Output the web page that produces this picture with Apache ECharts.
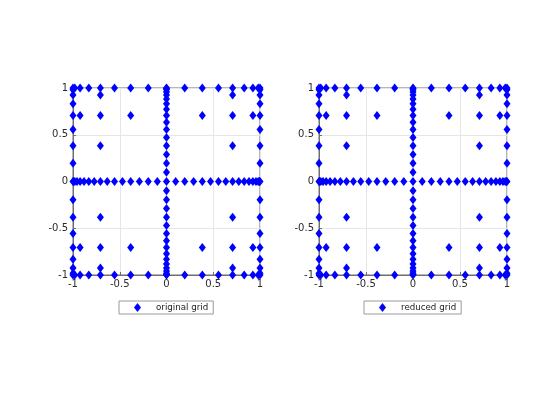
<!DOCTYPE html>
<html>
<head>
<meta charset="utf-8">
<script src="https://cdn.jsdelivr.net/npm/echarts@6/dist/echarts.min.js"></script>
<style>html,body{margin:0;padding:0;background:#fff}#c{width:560px;height:420px}</style>
</head>
<body>
<div id="c"></div>
<script>
// x positions of the points found in each kind of row
const rowX33 = [-1, -0.995, -0.981, -0.957, -0.924, -0.882, -0.831, -0.773, -0.707, -0.634, -0.556, -0.471, -0.383, -0.290, -0.195, -0.098, 0,
                0.098, 0.195, 0.290, 0.383, 0.471, 0.556, 0.634, 0.707, 0.773, 0.831, 0.882, 0.924, 0.957, 0.981, 0.995, 1];
const rowX17 = [-1, -0.981, -0.924, -0.831, -0.707, -0.556, -0.383, -0.195, 0, 0.195, 0.383, 0.556, 0.707, 0.831, 0.924, 0.981, 1];
const rowX9 = [-1, -0.924, -0.707, -0.383, 0, 0.383, 0.707, 0.924, 1];
const rowX5 = [-1, -0.707, 0, 0.707, 1];
const rowX3 = [-1, 0, 1];
const rowX1 = [0];
// y values of the rows that carry each of those x sets
const rowsY33 = [0];
const rowsY17 = [-1, 1];
const rowsY9 = [-0.707, 0.707];
const rowsY5 = [-0.924, -0.383, 0.383, 0.924];
const rowsY3 = [-0.981, -0.831, -0.556, -0.195, 0.195, 0.556, 0.831, 0.981];
const rowsY1 = [-0.995, -0.957, -0.882, -0.773, -0.634, -0.471, -0.290, -0.098, 0.098, 0.290, 0.471, 0.634, 0.773, 0.882, 0.957, 0.995];
const seriesNames = ['original grid', 'reduced grid'];
const tickValues = [-1, -0.5, 0, 0.5, 1];

function buildPoints() {
  const pts = [];
  const groups = [[rowsY33, rowX33], [rowsY17, rowX17], [rowsY9, rowX9], [rowsY5, rowX5], [rowsY3, rowX3], [rowsY1, rowX1]];
  groups.forEach(function (g) {
    g[0].forEach(function (y) { g[1].forEach(function (x) { pts.push([x, y]); }); });
  });
  return pts;
}
const points = buildPoints();

const FONT = 'DejaVu Sans';
const axisCol = '#6e6e6e';
function mkAxis(idx, isX) {
  return {
    type: 'value', gridIndex: idx, min: tickValues[0], max: tickValues[tickValues.length - 1], interval: 0.5,
    axisLine: { show: true, onZero: false, lineStyle: { color: axisCol, width: 1 } },
    axisTick: { show: true, inside: true, length: 3, lineStyle: { color: axisCol } },
    axisLabel: { color: '#2b2b2b', fontFamily: FONT, fontSize: 10, margin: isX ? 4 : 5 },
    splitLine: { show: true, lineStyle: { color: '#e6e6e6', width: 1 } }
  };
}
function mkLegend(name, left) {
  return {
    data: [name], left: left, top: 301, orient: 'horizontal',
    icon: 'diamond', itemWidth: 7, itemHeight: 9,
    padding: [2, 5, 2, 15],
    borderColor: '#9a9a9a', borderWidth: 1, backgroundColor: '#fff',
    textStyle: { fontFamily: FONT, fontSize: 8.7, color: '#222', padding: [0, 0, 0, 10] }
  };
}
const chart = echarts.init(document.getElementById('c'), null, { renderer: 'canvas' });
chart.setOption({
  animation: false,
  backgroundColor: '#fff',
  grid: [
    { left: 73, top: 88, width: 187, height: 187, show: true, borderColor: axisCol, borderWidth: 1, backgroundColor: '#fff' },
    { left: 319, top: 88, width: 188, height: 187, show: true, borderColor: axisCol, borderWidth: 1, backgroundColor: '#fff' }
  ],
  xAxis: [mkAxis(0, true), mkAxis(1, true)],
  yAxis: [mkAxis(0, false), mkAxis(1, false)],
  legend: [mkLegend(seriesNames[0], 119), mkLegend(seriesNames[1], 364)],
  series: [
    { name: seriesNames[0], type: 'scatter', xAxisIndex: 0, yAxisIndex: 0, data: points,
      symbol: 'diamond', symbolSize: [7, 9], itemStyle: { color: '#0000ff', opacity: 1 } },
    { name: seriesNames[1], type: 'scatter', xAxisIndex: 1, yAxisIndex: 1, data: points,
      symbol: 'diamond', symbolSize: [7, 9], itemStyle: { color: '#0000ff', opacity: 1 } }
  ]
});
</script>
</body>
</html>
